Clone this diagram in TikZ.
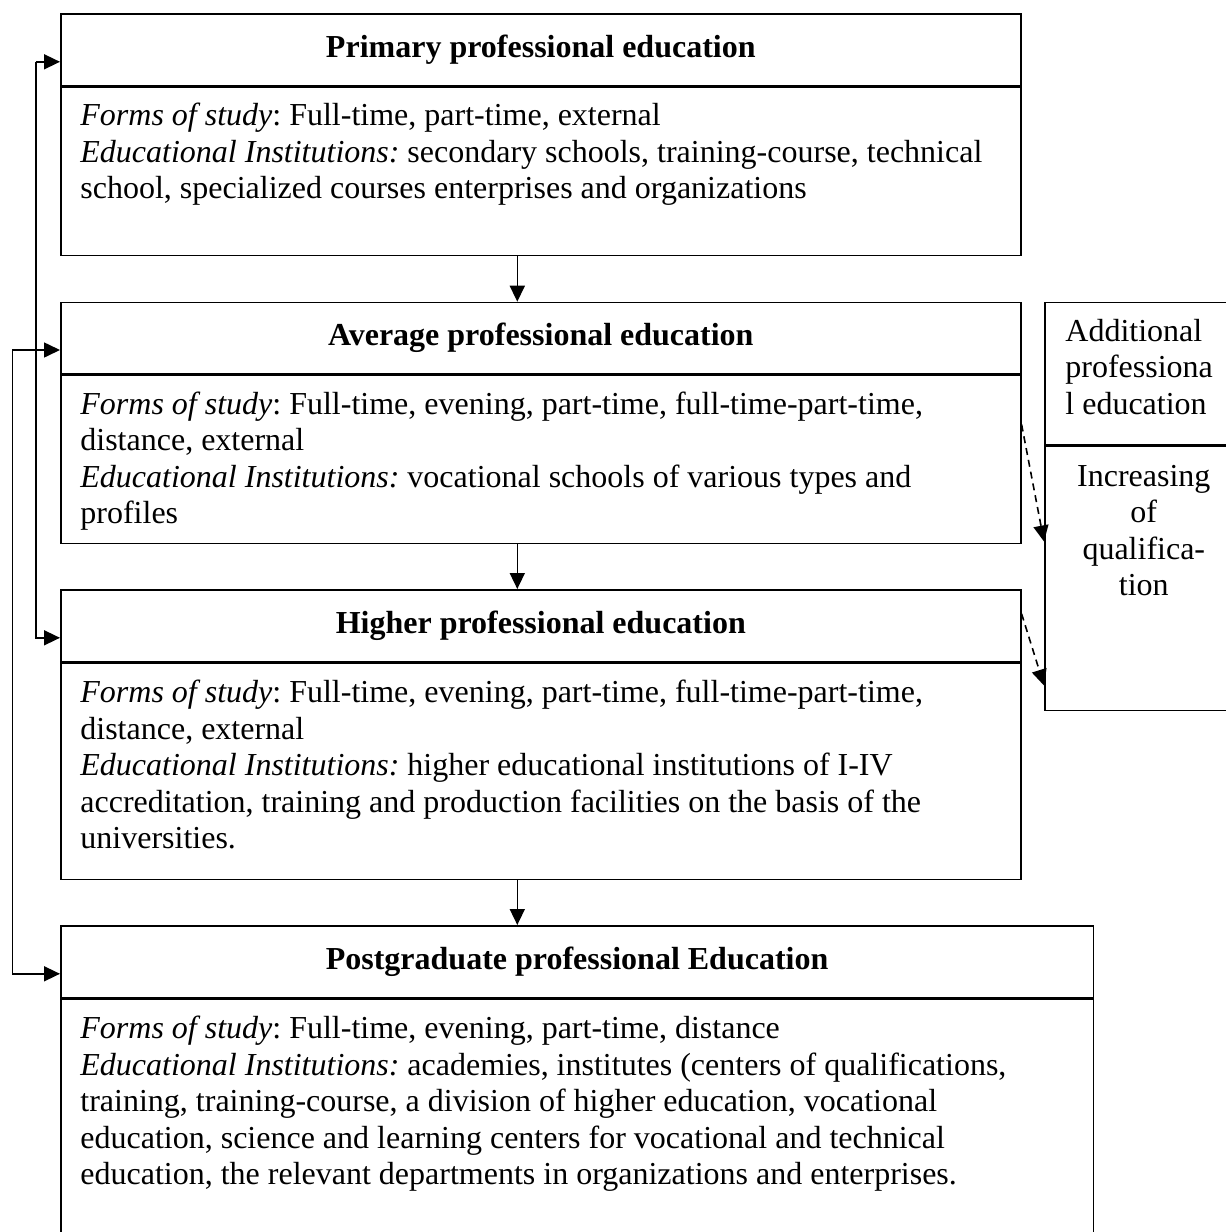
\documentclass[tikz,border=0pt]{standalone}
\usepackage{fontspec}
\setmainfont{Liberation Serif}
\usetikzlibrary{positioning,calc,arrows.meta}
\newcommand{\diagfont}{\fontsize{16pt}{18.25pt}\selectfont\frenchspacing}
\tikzset{
	head/.style={draw=black,line width=0.8pt,minimum width=480pt,minimum height=36pt,inner sep=0pt,font=\diagfont\bfseries,anchor=north west},
	body/.style={draw=black,line width=0.8pt,minimum width=480pt,inner sep=0pt,anchor=north},
	txt/.style={inner sep=0pt,align=left,font=\diagfont,anchor=north west},
	flow/.style={-{Triangle[length=8pt,width=7.5pt]},line width=0.8pt},
	dflow/.style={flow,dash pattern=on 3.5pt off 2.5pt},
}
\begin{document}
\begin{tikzpicture}[x=0.5pt,y=-0.5pt]
		\useasboundingbox (0,0) rectangle (1226,1232);
		\clip (0,0) rectangle (1226,1232);
		% levels of professional education
		\node[head] (h1) at (60,13) {Primary professional education};
		\node[body,minimum height=84pt] (b1) at (h1.south) {};
		\node[txt,below right=8pt and 10pt of b1.north west] (t1) {\textit{Forms of study}: Full-time, part-time, external\\
			\textit{Educational Institutions:} secondary schools, training-course, technical\\
			school, specialized courses enterprises and organizations};
		
		\node[head,minimum height=35.5pt] (h2) at (60,301.7) {Average professional education};
		\node[body,minimum height=84.2pt] (b2) at (h2.south) {};
		\node[txt,below right=8.5pt and 10pt of b2.north west] (t2) {\textit{Forms of study}: Full-time, evening, part-time, full-time-part-time,\\
			distance, external\\
			\textit{Educational Institutions:} vocational schools of various types and\\
			profiles};
		
		\node[head] (h3) at (60,589) {Higher professional education};
		\node[body,minimum height=108pt] (b3) at (h3.south) {};
		\node[txt,below right=8.5pt and 10pt of b3.north west] (t3) {\textit{Forms of study}: Full-time, evening, part-time, full-time-part-time,\\
			distance, external\\
			\textit{Educational Institutions:} higher educational institutions of I-IV\\
			accreditation, training and production facilities on the basis of the\\
			universities.};
		
		\node[head,minimum width=516.3pt] (h4) at (60,925) {Postgraduate professional Education};
		\node[body,minimum width=516.3pt,minimum height=124pt] (b4) at (h4.south) {};
		\node[txt,below right=8.5pt and 10pt of b4.north west] (t4) {\textit{Forms of study}: Full-time, evening, part-time, distance\\
			\textit{Educational Institutions:} academies, institutes (centers of qualifications,\\
			training, training-course, a division of higher education, vocational\\
			education, science and learning centers for vocational and technical\\
			education, the relevant departments in organizations and enterprises.};
		
		% additional education on the right
		\node[head,minimum width=99pt,minimum height=71.2pt] (a1) at (1044,301.7) {};
		\node[txt,below right=8.5pt and 10.5pt of a1.north west] (t5) {Additional\\professiona\\l education};
		\node[body,minimum width=99pt,minimum height=132pt] (a2) at (a1.south) {};
		\node[inner sep=0pt,align=center,font=\diagfont,below=9.5pt of a2.north] (t6) {Increasing\\of\\qualifica-\\tion};
		
		% arrows between the levels
		\coordinate[xshift=-11.75pt] (ax) at (b1.south);
		\draw[flow] (b1.south -| ax)--(h2.north -| ax);
		\draw[flow] (b2.south -| ax)--(h3.north -| ax);
		\draw[flow] (b3.south -| ax)--(h4.north -| ax);
		
		\coordinate[xshift=-12.15pt] (l1) at ([yshift=-6pt]h1.west);
		\draw[flow] (l1)--([yshift=-6pt]h1.west);
		\draw[flow] (l1)|-([yshift=-6pt]h3.west);
		\coordinate[xshift=-23.85pt] (l2) at ([yshift=-6pt]h2.west);
		\draw[flow] (l2)--([yshift=-6pt]h2.west);
		\draw[flow] (l2)|-([yshift=-6pt]h4.west);
		
		\draw[dflow] ([yshift=17.4pt]b2.east)--([yshift=18.5pt]a2.west);
		\draw[dflow] ([yshift=6pt]h3.east)--([yshift=-53.5pt]a2.west);
	\end{tikzpicture}
\end{document}
